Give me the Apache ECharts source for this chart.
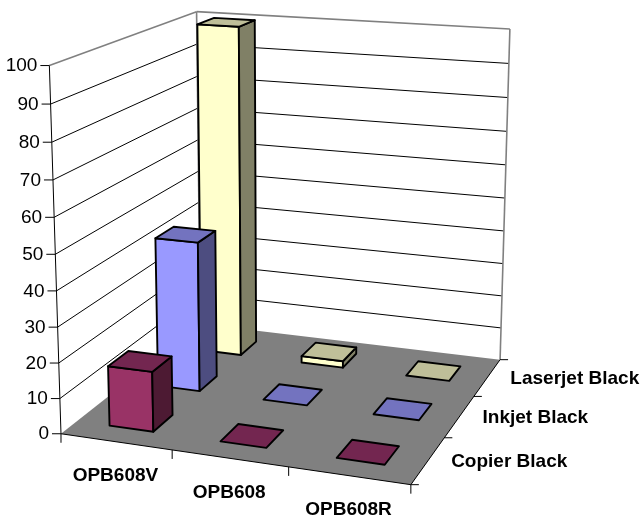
<!DOCTYPE html>
<html><head><meta charset="utf-8">
<style>html,body{margin:0;padding:0;background:#fff}#c{width:644px;height:517px}</style>
<script src="https://cdn.jsdelivr.net/npm/echarts@6/dist/echarts.min.js"></script>
</head><body><div id="c"></div>
<script>
const products = ['OPB608V', 'OPB608', 'OPB608R'];
const depths = ['Copier Black', 'Inkjet Black', 'Laserjet Black'];
const valueTicks = [0, 10, 20, 30, 40, 50, 60, 70, 80, 90, 100];
const copierBlack = [17, 0, 0];
const inkjetBlack = [44, 0, 0];
const laserjetBlack = [100, 2, 0];
const seriesValues = [copierBlack, inkjetBlack, laserjetBlack];
const colors = [
  {front: '#993366', top: '#732650', side: '#4d1a33'},
  {front: '#9999ff', top: '#7373bf', side: '#4d4d80'},
  {front: '#ffffcc', top: '#bfbf99', side: '#808066'}
];
// camera calibration: (world x, depth, value) -> pixel
const calib = [
  [0,0,0,62,434],[1,0,0,172,450],[2,0,0,287.7,467.5],[3,0,0,409.5,484],
  [3,1,0,445,438],[3,2,0,475,396.5],[3,3,0,500.7,359],[0,3,0,198,323.6],
  [0,0,10,61,399],[0,0,20,59.5,363.3],[0,0,90,50,103.5],[0,0,100,48.5,65],
  [0,3,100,198,12],[3,3,100,510,29],[3,3,90,508.3,63.3],[3,3,80,507.7,98.3]
];
function fit() {
  const n = 11, A = Array.from({length:n},()=>new Array(n+1).fill(0));
  const add = (r, b) => { for (let i=0;i<n;i++){ for(let j=0;j<n;j++) A[i][j]+=r[i]*r[j]; A[i][n]+=r[i]*b; } };
  calib.forEach(([x,y,z,u,v]) => {
    z/=100; u/=100; v/=100;
    add([x,y,z,1,0,0,0,0,-u*x,-u*y,-u*z], u);
    add([0,0,0,0,x,y,z,1,-v*x,-v*y,-v*z], v);
  });
  for (let c=0;c<n;c++){
    let p=c; for(let r=c+1;r<n;r++) if(Math.abs(A[r][c])>Math.abs(A[p][c])) p=r;
    [A[c],A[p]]=[A[p],A[c]];
    for(let r=0;r<n;r++) if(r!==c){ const f=A[r][c]/A[c][c]; for(let k=c;k<=n;k++) A[r][k]-=f*A[c][k]; }
  }
  return A.map((row,i)=>row[n]/row[i]);
}
const H = fit();
function P(x,y,v){
  const z=v/100, w=H[8]*x+H[9]*y+H[10]*z+1;
  return [100*(H[0]*x+H[1]*y+H[2]*z+H[3])/w, 100*(H[4]*x+H[5]*y+H[6]*z+H[7])/w];
}
const poly=(pts,fill,stroke,lw)=>({type:'polygon',shape:{points:pts},style:{fill:fill,stroke:stroke||null,lineWidth:lw||0,lineJoin:'round'}});
const line=(a,b,stroke,lw)=>({type:'polyline',shape:{points:[a,b]},style:{fill:null,stroke:stroke,lineWidth:lw}});
const FONT='"Liberation Sans", Arial, sans-serif';
const text=(p,s,align,weight,size)=>({type:'text',style:{x:p[0],y:p[1],text:s,textAlign:align,textVerticalAlign:'middle',fill:'#000',font:(weight||'normal')+' '+size+'px '+FONT}});

// maps the library's hidden axes back to world coordinates
function world(api,params,i,val){
  const c=api.coord([i,val]), cs=params.coordSys;
  return [(c[0]-cs.x)/cs.width*products.length, (cs.y+cs.height-c[1])/cs.height*100];
}
const halfW=0.2, halfD=0.2;

function renderBar(depth){
  return function(params,api){
    const i=api.value(0), val=api.value(1);
    const w=world(api,params,i,val), cx=w[0], h=w[1], cy=depth+0.5;
    const x0=cx-halfW,x1=cx+halfW,y0=cy-halfD,y1=cy+halfD;
    const col=colors[depth], lw=1.9, s='#000';
    const ch=[];
    if(h>0){
      ch.push(poly([P(x0,y0,0),P(x1,y0,0),P(x1,y0,h),P(x0,y0,h)],col.front,s,lw));
      ch.push(poly([P(x1,y0,0),P(x1,y1,0),P(x1,y1,h),P(x1,y0,h)],col.side,s,lw));
    }
    ch.push(poly([P(x0,y0,h),P(x1,y0,h),P(x1,y1,h),P(x0,y1,h)],col.top,s,lw));
    return {type:'group',children:ch};
  };
}
function renderFrame(params,api){
  const ch=[];
  ch.push(poly([P(0,0,0),P(0,3,0),P(0,3,100),P(0,0,100)],'#fff'));
  ch.push(poly([P(0,3,0),P(3,3,0),P(3,3,100),P(0,3,100)],'#fff'));
  ch.push(poly([P(0,0,0),P(3,0,0),P(3,3,0),P(0,3,0)],'#808080'));
  valueTicks.forEach(v=>{
    if(v>0&&v<100){
      ch.push(line(P(0,0,v),P(0,3,v),'#000',1));
      ch.push(line(P(0,3,v),P(3,3,v),'#000',1));
    }
  });
  const g='#808080';
  ch.push(line(P(0,0,100),P(0,3,100),g,1.6));
  ch.push(line(P(0,3,100),P(3,3,100),g,1.6));
  ch.push(line(P(0,3,0),P(0,3,100),g,1.6));
  ch.push(line(P(3,3,0),P(3,3,100),g,1.6));
  // axes
  ch.push(line(P(0,0,0),P(0,0,100),'#000',1));
  ch.push(line(P(0,0,0),P(3,0,0),'#000',1));
  ch.push(line(P(3,0,0),P(3,3,0),'#000',1));
  valueTicks.forEach(v=>{
    const p=P(0,0,v);
    ch.push(line([p[0]-9,p[1]],p,'#000',1));
    ch.push(text([p[0]-12,p[1]+0.5],String(v),'right','normal',19));
  });
  for(let i=0;i<=products.length;i++){
    const p=P(i,0,0);
    ch.push(line(p,[p[0],p[1]+9],'#000',1));
  }
  for(let j=0;j<=depths.length;j++){
    const p=P(3,j,0);
    ch.push(line(p,[p[0]+8,p[1]],'#000',1));
  }
  products.forEach((n,i)=>{
    const p=P(i+0.5,0,0);
    ch.push(text([p[0]-0.5,p[1]+34],n,'center','bold',19));
  });
  depths.forEach((n,j)=>{
    const p=P(3,j+0.5,0);
    ch.push(text([p[0]+23,p[1]+1.5],n,'left','bold',19));
  });
  return {type:'group',children:ch};
}
const series=[{type:'custom',silent:true,clip:false,z:1,renderItem:renderFrame,data:[[0,0]],encode:{x:0,y:1}}];
[2,1,0].forEach(d=>{
  series.push({type:'custom',name:depths[d],silent:true,clip:false,z:2+(2-d),renderItem:renderBar(d),
    encode:{x:0,y:1},data:seriesValues[d].map((v,i)=>[i,v])});
});
const chart=echarts.init(document.getElementById('c'),null,{renderer:'canvas'});
chart.setOption({
  animation:false,backgroundColor:'#fff',
  grid:{left:0,top:0,width:300,height:100,show:false},
  xAxis:{type:'category',data:products,show:false},
  yAxis:{type:'value',min:0,max:100,interval:10,show:false},
  series:series
});
</script></body></html>
